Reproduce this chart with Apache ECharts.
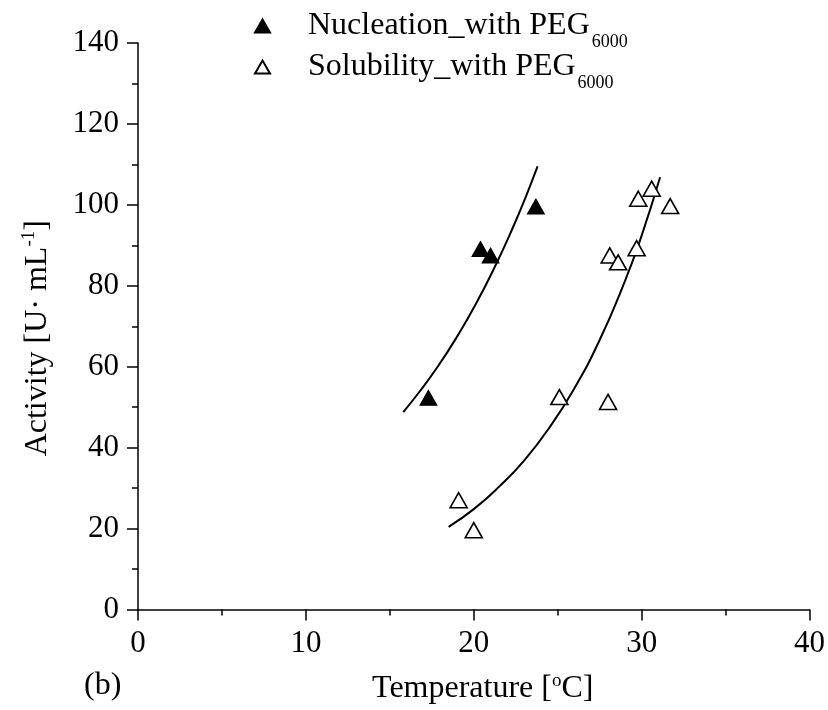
<!DOCTYPE html>
<html>
<head>
<meta charset="utf-8">
<script src="https://cdn.jsdelivr.net/npm/echarts@6/dist/echarts.min.js"></script>
<style>
  html, body { margin: 0; padding: 0; background: #fff; }
  #chart { width: 828px; height: 710px; }
</style>
</head>
<body>
<div id="chart"></div>
<script>
// Measured points: nucleation (filled) and solubility (hollow) with PEG 6000
const nucTemp = [17.3, 20.4, 21.0, 23.7];
const nucAct  = [52.3, 89.1, 87.5, 99.6];

const solTemp = [19.1, 20.0, 25.1, 28.0, 28.1, 28.6, 29.7, 29.8, 30.6, 31.7];
const solAct  = [27.0, 19.6, 52.5, 51.3, 87.5, 85.8, 89.3, 101.5, 104.0, 99.7];

// Fitted trend curves, sampled along the drawn lines
const nucFitTemp = [15.8, 16.8, 17.9, 19.0, 20.1, 21.2, 22.3, 23.1, 23.8];
const nucFitAct  = [48.8, 54.0, 60.3, 67.4, 75.3, 84.2, 94.1, 102.0, 109.5];

const solFitTemp = [18.5, 20.0, 21.5, 23.0, 24.5, 26.0, 27.5, 29.0, 30.0, 31.1];
const solFitAct  = [20.4, 24.8, 30.3, 36.8, 44.9, 54.7, 66.6, 81.1, 92.4, 106.8];

// Axis ranges and ticks
const xTicks = { min: 0, max: 40, interval: 10 };
const yTicks = { min: 0, max: 140, interval: 20 };

const seriesNames = ['Nucleation_with PEG', 'Solubility_with PEG'];
const subscript = '6000';

const FONT = 'Liberation Serif';
const pairs = (xs, ys) => xs.map((x, i) => [x, ys[i]]);

const chart = echarts.init(document.getElementById('chart'));

const axisCommon = {
  axisLine: { show: true, onZero: false, lineStyle: { color: '#000', width: 1.5 } },
  axisTick: { show: true, inside: false, length: 11, lineStyle: { color: '#000', width: 1.5 } },
  minorTick: { show: true, splitNumber: 2, length: 6, lineStyle: { color: '#000', width: 1.5 } },
  splitLine: { show: false },
  axisLabel: { color: '#000', fontFamily: FONT, fontSize: 31, margin: 19 }
};

// One legend block per series so each row can be placed on its own
const legendRow = (name, top) => ({
  data: [name],
  orient: 'vertical',
  left: 254,
  top: top,
  itemWidth: 15,
  itemHeight: 13,
  padding: 0,
  formatter: n => '{m|' + n + '}{s|' + subscript + '}',
  textStyle: {
    color: '#000',
    fontFamily: FONT,
    fontSize: 32,
    rich: {
      m: { fontFamily: FONT, fontSize: 32, color: '#000', padding: [0, 0, 0, 33] },
      s: { fontFamily: FONT, fontSize: 18, color: '#000', padding: [32, 0, 0, 2] }
    }
  }
});

const supStyle = { fontFamily: FONT, fontSize: 19, color: '#000', padding: [0, 0, 16, 0] };

chart.setOption({
  animation: false,
  backgroundColor: '#fff',
  grid: { left: 138, right: 18, top: 43, bottom: 99, containLabel: false },
  legend: [legendRow(seriesNames[0], 10), legendRow(seriesNames[1], 51)],
  xAxis: Object.assign({
    type: 'value',
    min: xTicks.min, max: xTicks.max, interval: xTicks.interval,
    name: 'Temperature [{sup|o}C]',
    nameLocation: 'middle',
    nameGap: 62,
    nameTextStyle: {
      color: '#000', fontFamily: FONT, fontSize: 32,
      padding: [0, 0, 0, 18],
      rich: { sup: supStyle }
    }
  }, axisCommon),
  yAxis: Object.assign({
    type: 'value',
    min: yTicks.min, max: yTicks.max, interval: yTicks.interval,
    name: 'Activity [U· mL{sup|-1}]',
    nameLocation: 'middle',
    nameRotate: 90,
    nameGap: 83,
    nameTextStyle: {
      color: '#000', fontFamily: FONT, fontSize: 32,
      padding: [0, 24, 0, 0],
      rich: { sup: supStyle }
    }
  }, axisCommon),
  graphic: [{
    type: 'text',
    left: 84,
    top: 670,
    style: { text: '(b)', fontFamily: FONT, fontSize: 32, fill: '#000' }
  }],
  series: [
    {
      name: seriesNames[0],
      type: 'scatter',
      symbol: 'triangle',
      symbolSize: [17, 15],
      itemStyle: { color: '#000', borderColor: '#000', borderWidth: 1, opacity: 1 },
      data: pairs(nucTemp, nucAct),
      z: 3
    },
    {
      name: seriesNames[1],
      type: 'scatter',
      symbol: 'triangle',
      symbolSize: [17, 15],
      itemStyle: { color: '#fff', borderColor: '#000', borderWidth: 1.6, opacity: 1 },
      data: pairs(solTemp, solAct),
      z: 3
    },
    {
      type: 'line',
      smooth: true,
      showSymbol: false,
      symbol: 'none',
      lineStyle: { color: '#000', width: 2 },
      data: pairs(nucFitTemp, nucFitAct),
      z: 2
    },
    {
      type: 'line',
      smooth: true,
      showSymbol: false,
      symbol: 'none',
      lineStyle: { color: '#000', width: 2 },
      data: pairs(solFitTemp, solFitAct),
      z: 2
    }
  ]
});
</script>
</body>
</html>
